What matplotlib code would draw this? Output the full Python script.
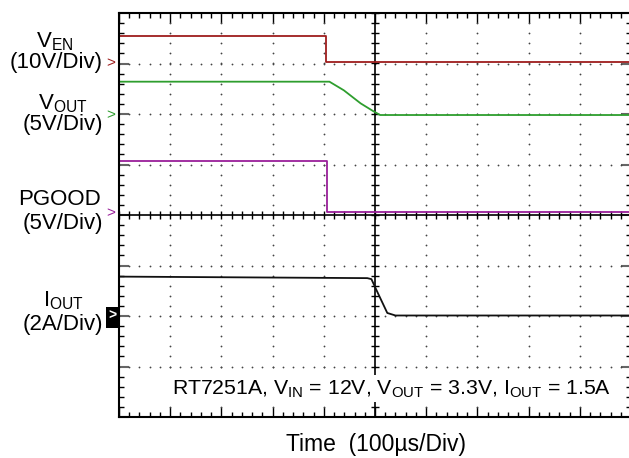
import numpy as np
import matplotlib.pyplot as plt
from matplotlib.patches import Rectangle

plt.rcParams['font.family'] = ['Liberation Sans', 'DejaVu Sans']
plt.rcParams['mathtext.fontset'] = 'custom'
plt.rcParams['mathtext.rm'] = 'Liberation Sans'

# time in divisions (100us/div), traces in divisions from screen centre
t_ven = [0, 4.04, 4.04, 10]
ven = [3.55, 3.55, 3.02, 3.02]
t_vout = [0, 4.11, 4.39, 4.72, 4.96, 5.1, 10]
vout = [2.64, 2.64, 2.47, 2.21, 2.06, 1.98, 1.98]
t_pgood = [0, 4.06, 4.06, 10]
pgood = [1.07, 1.07, 0.06, 0.06]
t_iout = [0, 4.85, 4.93, 5.03, 5.24, 5.4, 10]
iout = [-1.22, -1.25, -1.27, -1.49, -1.94, -1.99, -1.99]

W, H = 629, 458

def px(x, y):
    return x / W, 1 - y / H

fig = plt.figure(figsize=(W / 100, H / 100), dpi=100)
ax = fig.add_axes([119 / W, 41 / H, 512 / W, 404 / H])
ax.set_xlim(0, 10)
ax.set_ylim(-4, 4)

# scope graticule
ax.set_xticks(range(11))
ax.set_xticks(np.arange(0, 10.01, 0.2), minor=True)
ax.set_yticks(range(-4, 5))
ax.set_yticks(np.arange(-4, 4.01, 0.2), minor=True)
ax.tick_params(which='both', direction='in', top=True, right=True,
               labelbottom=False, labelleft=False, width=1, color='k')
ax.tick_params(which='major', length=7)
ax.tick_params(which='minor', length=3.6)
ax.tick_params(axis='y', which='major', color='#666', width=1.5)
for s in ax.spines.values():
    s.set_linewidth(1.5)

xs = np.arange(0, 10.01, 0.2)
ys = np.arange(-4, 4.01, 0.2)
for gx in range(1, 10):
    if gx != 5:
        ax.plot([gx] * len(ys), ys, 'o', ms=1.3, color='#444', mew=0)
for gy in range(-3, 4):
    if gy != 0:
        ax.plot(xs, [gy] * len(xs), 'o', ms=1.3, color='#444', mew=0)

ax.axvline(5, color='k', lw=1.2)
ax.axhline(0, color='k', lw=1.2)
ax.plot([5] * len(ys), ys, ls='none', marker='_', ms=6, mew=1, color='k')
ax.plot(xs, [0] * len(xs), ls='none', marker='|', ms=6, mew=1, color='k')

# traces
ax.plot(t_ven, ven, color='#9e1c1c', lw=1.3)
ax.plot(t_vout, vout, color='#2e9e2e', lw=1.3)
ax.plot(t_pgood, pgood, color='#9a1f9a', lw=1.3)
ax.plot(t_iout, iout, color='#111111', lw=1.3)

fs = 16
# channel labels
fig.text(*px(55, 47), r'V$_{\mathrm{EN}}$', ha='center', va='baseline', fontsize=fs)
fig.text(*px(103, 68), '(10V/Div)', ha='right', va='baseline', fontsize=fs)
fig.text(*px(63, 109), r'V$_{\mathrm{OUT}}$', ha='center', va='baseline', fontsize=fs)
fig.text(*px(103, 130), '(5V/Div)', ha='right', va='baseline', fontsize=fs)
fig.text(*px(59, 205), 'PGOOD', ha='center', va='baseline', fontsize=fs)
fig.text(*px(103, 229), '(5V/Div)', ha='right', va='baseline', fontsize=fs)
fig.text(*px(63, 306), r'I$_{\mathrm{OUT}}$', ha='center', va='baseline', fontsize=fs)
fig.text(*px(103, 330), '(2A/Div)', ha='right', va='baseline', fontsize=fs)

# ground markers
fig.text(*px(111, 63), '>', ha='center', va='center', fontsize=11, color='#9e1c1c')
fig.text(*px(111, 115), '>', ha='center', va='center', fontsize=11, color='#2e9e2e')
fig.text(*px(111, 213), '>', ha='center', va='center', fontsize=11, color='#9a1f9a')
fig.patches.append(Rectangle(px(106, 328), 13 / W, 21 / H, transform=fig.transFigure,
                             facecolor='black', edgecolor='none'))
fig.text(*px(112, 316), '>', ha='center', va='center', fontsize=10, color='white',
         fontweight='bold')

fig.text(*px(172, 394),
         r'RT7251A, V$_{\mathrm{IN}}$ = 12V, V$_{\mathrm{OUT}}$ = 3.3V, I$_{\mathrm{OUT}}$ = 1.5A',
         ha='left', va='baseline', fontsize=15.3,
         bbox=dict(facecolor='white', edgecolor='none', pad=2))

fig.text(*px(376, 451), 'Time  (100µs/Div)', ha='center', va='baseline', fontsize=16.5)

fig.savefig('out.png', dpi=100)
